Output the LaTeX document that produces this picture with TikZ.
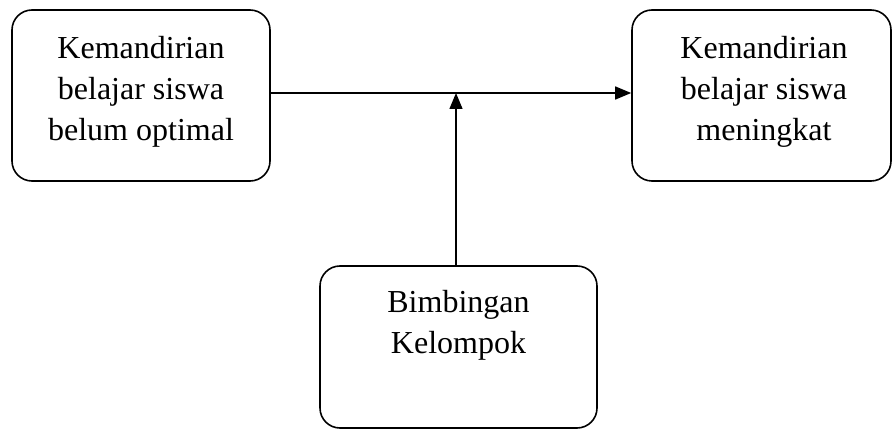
\documentclass[tikz,border=0pt]{standalone}
\usepackage{fontspec}
\setmainfont{Liberation Serif}
\usetikzlibrary{arrows.meta}
\begin{document}
\begin{tikzpicture}[x=1pt,y=-1pt,
  box/.style={draw, line width=1.6pt, rounded corners=20pt, inner sep=0pt},
  txt/.style={align=center, inner sep=0pt, anchor=north, font=\fontsize{32}{41}\selectfont},
  conn/.style={line width=1.4pt, -{Triangle[length=16pt,width=13pt]}}]
\useasboundingbox (0,0) rectangle (893,430);
\node[box, minimum width=258pt, minimum height=171pt] (L) at (141,95.5) {};
\node[box, minimum width=259pt, minimum height=171pt] (R) at (761.5,95.5) {};
\node[box, minimum width=277pt, minimum height=162pt] (B) at (458.5,347) {};
\node[txt] (Lt) at (141,36.5) {Kemandirian\\belajar siswa\\belum optimal};
\node[txt] (Rt) at (764,36.5) {Kemandirian\\belajar siswa\\meningkat};
\node[txt] (Bt) at (458.5,290.5) {Bimbingan\\Kelompok};
\coordinate (j) at (456,93);
\draw[conn] (L.east |- j) -- (R.west |- j);
\draw[conn] (j |- B.north) -- (j);
\end{tikzpicture}
\end{document}
